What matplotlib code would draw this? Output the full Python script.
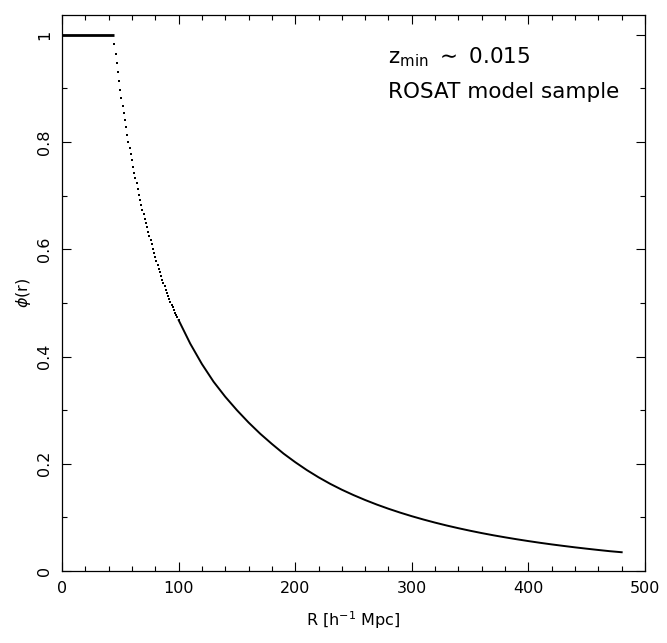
import matplotlib
matplotlib.use("Agg")
import matplotlib.pyplot as plt
from matplotlib.ticker import MultipleLocator

plt.rcParams['font.family'] = ['DejaVu Sans']

# flat part (phi = 1)
flat_R = [0, 45]
flat_phi = [1.0, 1.0]

# steep, visibly dotted part (one dot per integer R)
dot_R = list(range(45, 101))
dot_phi = [0.982, 0.964, 0.947, 0.930, 0.913, 0.898, 0.883, 0.868, 0.854, 0.841,
           0.828, 0.814, 0.801, 0.789, 0.777, 0.766, 0.754, 0.743, 0.733, 0.723,
           0.712, 0.702, 0.692, 0.683, 0.674, 0.665, 0.657, 0.649, 0.641, 0.633,
           0.625, 0.617, 0.609, 0.601, 0.594, 0.586, 0.578, 0.571, 0.564, 0.557,
           0.550, 0.543, 0.537, 0.531, 0.524, 0.518, 0.513, 0.507, 0.502, 0.497,
           0.492, 0.487, 0.482, 0.477, 0.473, 0.468]

# tail, where dots merge into a continuous curve
tail_R = [100, 110, 120, 130, 140, 150, 160, 170, 180, 190, 200, 210, 220, 230,
          240, 250, 260, 270, 280, 290, 300, 310, 320, 330, 340, 350, 360, 370,
          380, 390, 400, 410, 420, 430, 440, 450, 460, 470, 480]
tail_phi = [0.468, 0.424, 0.386, 0.353, 0.325, 0.300, 0.277, 0.256, 0.237, 0.219,
            0.203, 0.1882, 0.1748, 0.1626, 0.1516, 0.1416, 0.1324, 0.1239, 0.1161,
            0.1089, 0.1022, 0.0960, 0.0902, 0.0848, 0.0798, 0.0751, 0.0707, 0.0666,
            0.0628, 0.0592, 0.0558, 0.0526, 0.0496, 0.0468, 0.0441, 0.0416, 0.0392,
            0.0369, 0.0350]

x_ticks = [0, 100, 200, 300, 400, 500]
y_ticks = [0, 0.2, 0.4, 0.6, 0.8, 1.0]
y_tick_labels = ["0", "0.2", "0.4", "0.6", "0.8", "1"]

fig = plt.figure(figsize=(6.67, 6.43), dpi=100)
ax = fig.add_axes([62/667, 1 - 571/643, (645 - 62)/667, (571 - 15)/643])

ax.plot(flat_R, flat_phi, color='black', lw=2.0, solid_capstyle='butt')
ax.plot(dot_R, dot_phi, ls='none', marker='s', ms=1.7, color='black', mew=0)
ax.plot(tail_R, tail_phi, color='black', lw=1.4)

ax.set_xlim(0, 500)
ax.set_ylim(0, 1.037)
ax.set_xticks(x_ticks)
ax.set_yticks(y_ticks)
ax.set_yticklabels(y_tick_labels, rotation=90, va='center')
ax.xaxis.set_minor_locator(MultipleLocator(20))
ax.yaxis.set_minor_locator(MultipleLocator(0.1))
ax.tick_params(which='both', direction='in', top=True, right=True,
               width=0.8, labelsize=11.5, color='black')
ax.tick_params(which='major', length=6.5)
ax.tick_params(which='minor', length=3.5)
ax.tick_params(axis='x', pad=7)
ax.tick_params(axis='y', pad=7)
for s in ax.spines.values():
    s.set_linewidth(0.9)

ax.set_xlabel(r"R [h$^{-1}$ Mpc]", fontsize=11.5, labelpad=10)
ax.set_ylabel(r"$\phi$(r)", fontsize=11.5, labelpad=3)

ax.text(388/667, 1 - 63/643, r"z$_{\rm min}$ $\sim$ 0.015", transform=fig.transFigure,
        fontsize=15.5, va='baseline', ha='left')
ax.text(388/667, 1 - 98/643, "ROSAT model sample", transform=fig.transFigure,
        fontsize=15.5, va='baseline', ha='left')

fig.savefig("out.png", dpi=100)
